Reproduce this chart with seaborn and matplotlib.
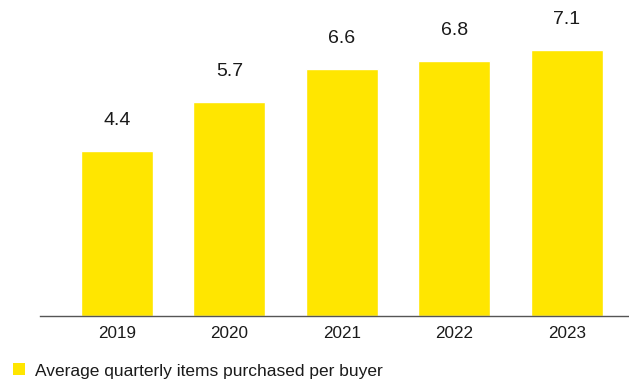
import matplotlib
matplotlib.use("Agg")
import matplotlib.pyplot as plt
import seaborn as sns
import pandas as pd
from matplotlib.patches import Patch

years = ["2019", "2020", "2021", "2022", "2023"]
values = [4.4, 5.7, 6.6, 6.8, 7.1]
series_name = "Average quarterly items purchased per buyer"

df = pd.DataFrame({"year": years, "value": values})

sns.set_theme(style="white")
plt.rcParams["font.family"] = ["Liberation Sans", "DejaVu Sans"]

W, H = 629, 381
fig = plt.figure(figsize=(W / 100, H / 100), dpi=100)
ax = fig.add_axes([40 / W, 65 / H, 589 / W, 316 / H])

yellow = "#FFE600"
sns.barplot(data=df, x="year", y="value", color=yellow, width=0.64,
            saturation=1, ax=ax)

for i, v in enumerate(values):
    ax.annotate(f"{v}", (i, v), xytext=(0, 18.7), textcoords="offset points",
                ha="center", va="baseline", fontsize=14, color="#1a1a1a")

ax.set_xlim(-0.684, 4.551)
ax.set_ylim(0, 8.427)
ax.set_xlabel("")
ax.set_ylabel("")
ax.set_yticks([])
for s in ["top", "right", "left"]:
    ax.spines[s].set_visible(False)
ax.spines["bottom"].set_color("#555555")
ax.spines["bottom"].set_linewidth(1.0)
ax.tick_params(axis="x", length=0, pad=7.5, labelsize=12.3, labelcolor="#1a1a1a")

fs = 12.5
handle = Patch(facecolor=yellow, edgecolor="none", label=series_name)
fig.legend(handles=[handle], loc="center left",
           bbox_to_anchor=(12.7 / W, 1 - 371 / H),
           frameon=False, fontsize=fs, handlelength=0.69, handleheight=0.69,
           handletextpad=0.575, borderaxespad=0, borderpad=0,
           labelcolor="#1a1a1a")

fig.savefig("out.png", dpi=100)
